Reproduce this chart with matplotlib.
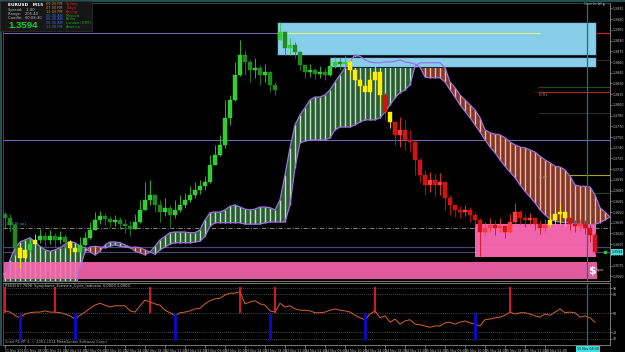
import numpy as np
import matplotlib
matplotlib.use("Agg")
import matplotlib.pyplot as plt
from matplotlib.patches import Rectangle
from matplotlib.lines import Line2D
from matplotlib.ticker import MultipleLocator, FormatStrFormatter
from matplotlib.transforms import blended_transform_factory

# ---- EURUSD M15 candles (bar index 0..118) ----
first_open = 1.3647
gap_opens = {55: 1.3891}
closes = [1.3642, 1.3632, 1.3600, 1.3586, 1.3597, 1.3605, 1.3611, 1.3616, 1.3611, 1.3616,
          1.3611, 1.3615, 1.3608, 1.3600, 1.3594, 1.3604, 1.3614, 1.3625, 1.3639, 1.3644,
          1.3640, 1.3636, 1.3639, 1.3633, 1.3630, 1.3626, 1.3636, 1.3653, 1.3667, 1.3674,
          1.3660, 1.3650, 1.3656, 1.3646, 1.3653, 1.3660, 1.3667, 1.3674, 1.3681, 1.3686,
          1.3692, 1.3716, 1.3730, 1.3744, 1.3782, 1.3807, 1.3842, 1.3870, 1.3860, 1.3849,
          1.3852, 1.3842, 1.3846, 1.3828, 1.3821, 1.3902, 1.3880, 1.3884, 1.3874, 1.3856,
          1.3846, 1.3849, 1.3843, 1.3846, 1.3842, 1.3854, 1.3860, 1.3857, 1.3860, 1.3849,
          1.3835, 1.3826, 1.3818, 1.3835, 1.3846, 1.3814, 1.3790, 1.3776, 1.3758, 1.3765,
          1.3751, 1.3748, 1.3723, 1.3702, 1.3688, 1.3695, 1.3688, 1.3692, 1.3670, 1.3660,
          1.3653, 1.3650, 1.3653, 1.3646, 1.3639, 1.3622, 1.3628, 1.3632, 1.3628, 1.3630,
          1.3622, 1.3636, 1.3650, 1.3642, 1.3639, 1.3642, 1.3633, 1.3628, 1.3632, 1.3639,
          1.3647, 1.3650, 1.3642, 1.3633, 1.3630, 1.3633, 1.3628, 1.3618, 1.3594]
highs = [1.3650, 1.3647, 1.3634, 1.3601, 1.3608, 1.3614, 1.3619, 1.3626, 1.3622, 1.3625,
         1.3621, 1.3623, 1.3619, 1.3611, 1.3607, 1.3615, 1.3622, 1.3636, 1.3650, 1.3651,
         1.3649, 1.3644, 1.3646, 1.3643, 1.3640, 1.3637, 1.3647, 1.3667, 1.3692, 1.3695,
         1.3674, 1.3667, 1.3670, 1.3660, 1.3667, 1.3674, 1.3677, 1.3686, 1.3692, 1.3695,
         1.3700, 1.3730, 1.3744, 1.3758, 1.3807, 1.3814, 1.3860, 1.3891, 1.3877, 1.3863,
         1.3866, 1.3856, 1.3857, 1.3848, 1.3832, 1.3916, 1.3894, 1.3894, 1.3888, 1.3876,
         1.3856, 1.3857, 1.3852, 1.3854, 1.3852, 1.3866, 1.3867, 1.3866, 1.3868, 1.3863,
         1.3851, 1.3838, 1.3829, 1.3846, 1.3854, 1.3849, 1.3816, 1.3790, 1.3776, 1.3783,
         1.3779, 1.3765, 1.3750, 1.3725, 1.3709, 1.3706, 1.3703, 1.3705, 1.3694, 1.3674,
         1.3660, 1.3658, 1.3660, 1.3657, 1.3650, 1.3641, 1.3636, 1.3642, 1.3639, 1.3642,
         1.3630, 1.3647, 1.3663, 1.3653, 1.3647, 1.3649, 1.3642, 1.3639, 1.3640, 1.3646,
         1.3657, 1.3661, 1.3653, 1.3642, 1.3639, 1.3640, 1.3639, 1.3632, 1.3620]
lows = [1.3628, 1.3622, 1.3590, 1.3572, 1.3580, 1.3594, 1.3601, 1.3607, 1.3602, 1.3605,
        1.3601, 1.3605, 1.3600, 1.3588, 1.3580, 1.3594, 1.3602, 1.3612, 1.3625, 1.3633,
        1.3632, 1.3629, 1.3630, 1.3626, 1.3621, 1.3616, 1.3626, 1.3634, 1.3653, 1.3660,
        1.3650, 1.3636, 1.3644, 1.3629, 1.3642, 1.3650, 1.3656, 1.3664, 1.3670, 1.3675,
        1.3681, 1.3690, 1.3716, 1.3728, 1.3740, 1.3772, 1.3805, 1.3840, 1.3842, 1.3832,
        1.3838, 1.3828, 1.3832, 1.3818, 1.3814, 1.3891, 1.3870, 1.3870, 1.3866, 1.3849,
        1.3838, 1.3839, 1.3836, 1.3838, 1.3835, 1.3840, 1.3852, 1.3849, 1.3853, 1.3840,
        1.3825, 1.3818, 1.3811, 1.3816, 1.3828, 1.3800, 1.3779, 1.3768, 1.3744, 1.3741,
        1.3737, 1.3734, 1.3702, 1.3692, 1.3674, 1.3678, 1.3672, 1.3674, 1.3653, 1.3646,
        1.3643, 1.3642, 1.3644, 1.3636, 1.3630, 1.3587, 1.3616, 1.3622, 1.3618, 1.3622,
        1.3614, 1.3620, 1.3634, 1.3633, 1.3629, 1.3632, 1.3625, 1.3619, 1.3622, 1.3629,
        1.3632, 1.3633, 1.3630, 1.3625, 1.3622, 1.3623, 1.3619, 1.3608, 1.3591]
yellow_bars = [3, 4, 6, 13, 14, 69, 70, 71, 72, 73, 74, 75, 77, 109, 110, 111, 112]
red_from = 76

# ---- Ichimoku cloud, starts one bar before the first candle ----
cloud_start = -1
span_a = [1.3558, 1.3566, 1.3583, 1.3600, 1.3608, 1.3611, 1.3614, 1.3608, 1.3602, 1.3597,
          1.3595, 1.3597, 1.3600, 1.3605, 1.3609, 1.3607, 1.3602, 1.3600, 1.3594, 1.3590,
          1.3595, 1.3604, 1.3608, 1.3608, 1.3607, 1.3604, 1.3601, 1.3595, 1.3593, 1.3590,
          1.3594, 1.3602, 1.3611, 1.3616, 1.3621, 1.3622, 1.3622, 1.3622, 1.3621, 1.3621,
          1.3625, 1.3639, 1.3649, 1.3650, 1.3650, 1.3653, 1.3658, 1.3660, 1.3657, 1.3654,
          1.3653, 1.3654, 1.3657, 1.3657, 1.3656, 1.3653, 1.3667, 1.3702, 1.3740, 1.3772,
          1.3786, 1.3796, 1.3807, 1.3811, 1.3811, 1.3814, 1.3821, 1.3832, 1.3842, 1.3852,
          1.3860, 1.3870, 1.3868, 1.3863, 1.3860, 1.3859, 1.3859, 1.3860, 1.3860, 1.3861,
          1.3863, 1.3860, 1.3859, 1.3857, 1.3853, 1.3839, 1.3838, 1.3838, 1.3838, 1.3832,
          1.3821, 1.3811, 1.3800, 1.3791, 1.3782, 1.3772, 1.3762, 1.3751, 1.3741, 1.3733,
          1.3723, 1.3714, 1.3706, 1.3698, 1.3688, 1.3679, 1.3671, 1.3663, 1.3653, 1.3646,
          1.3640, 1.3637, 1.3636, 1.3635, 1.3635, 1.3633, 1.3633, 1.3632, 1.3632, 1.3633,
          1.3635, 1.3639, 1.3643]
span_b = [1.3527, 1.3527, 1.3527, 1.3527, 1.3527, 1.3527, 1.3527, 1.3527, 1.3527, 1.3527,
          1.3527, 1.3527, 1.3527, 1.3527, 1.3527, 1.3538, 1.3572, 1.3594, 1.3601, 1.3602,
          1.3601, 1.3600, 1.3602, 1.3604, 1.3602, 1.3601, 1.3600, 1.3601, 1.3600, 1.3597,
          1.3594, 1.3591, 1.3597, 1.3601, 1.3605, 1.3607, 1.3607, 1.3607, 1.3607, 1.3608,
          1.3609, 1.3616, 1.3630, 1.3635, 1.3635, 1.3635, 1.3635, 1.3635, 1.3635, 1.3633,
          1.3633, 1.3633, 1.3633, 1.3635, 1.3636, 1.3636, 1.3636, 1.3636, 1.3660, 1.3712,
          1.3747, 1.3749, 1.3751, 1.3751, 1.3751, 1.3751, 1.3754, 1.3765, 1.3769, 1.3769,
          1.3769, 1.3772, 1.3776, 1.3779, 1.3779, 1.3779, 1.3782, 1.3790, 1.3800, 1.3810,
          1.3817, 1.3821, 1.3828, 1.3854, 1.3859, 1.3859, 1.3859, 1.3859, 1.3859, 1.3852,
          1.3832, 1.3824, 1.3814, 1.3807, 1.3800, 1.3793, 1.3782, 1.3765, 1.3761, 1.3759,
          1.3758, 1.3754, 1.3748, 1.3744, 1.3741, 1.3740, 1.3737, 1.3734, 1.3728, 1.3723,
          1.3719, 1.3714, 1.3713, 1.3709, 1.3700, 1.3688, 1.3686, 1.3686, 1.3685, 1.3674,
          1.3656, 1.3650, 1.3643]

# ---- RSI / Symphonie extreme panel ----
rsi = [54, 52, 47, 43, 49, 51, 52, 52, 54, 52, 52, 51, 49, 46, 41, 47, 52, 58, 63, 66,
       63, 60, 62, 62, 62, 54, 52, 62, 71, 68, 65, 63, 55, 51, 46, 51, 52, 54, 57, 58,
       65, 70, 73, 74, 79, 82, 82, 84, 65, 68, 70, 65, 63, 54, 52, 66, 60, 62, 57, 55,
       55, 54, 51, 51, 52, 55, 57, 55, 54, 52, 47, 43, 40, 49, 54, 43, 46, 36, 41, 33,
       38, 40, 33, 32, 30, 28, 30, 30, 35, 36, 33, 36, 38, 35, 33, 30, 40, 41, 43, 44,
       47, 52, 49, 51, 51, 49, 46, 44, 49, 47, 52, 57, 51, 52, 51, 44, 46, 43, 36]
sell_spikes = [0, 10, 29, 47, 54, 74, 101]
buy_spikes = [3, 14, 34, 53, 72, 94]
rsi_levels = [90, 80, 50, 20, 10]

# ---- levels and zones ----
supply_zone = (1.3870, 1.3916)
supply_zone2 = (1.3853, 1.3867)
demand_zone = (1.3587, 1.3633)
demand_band = (1.3556, 1.3580)
full_lines = [1.3901, 1.3751, 1.3601, 1.3594]
pivot_pp1 = 1.3628
daily_lines = {1.3863: "#4a1c1c", 1.3825: "#1d4f1d", 1.3818: "#b02020",
               1.3789: "#2a2a2a", 1.3702: "#a5a522", 1.3677: "#1d4f1d"}
last_price = 1.3594

time_labels = ["11 Nov 2013", "11 Nov 18:00", "11 Nov 22:00", "12 Nov 02:00", "12 Nov 06:00",
               "12 Nov 10:00", "12 Nov 14:00", "12 Nov 18:00", "12 Nov 22:00", "13 Nov 02:00",
               "13 Nov 06:00", "13 Nov 10:00", "13 Nov 14:00", "13 Nov 18:00", "13 Nov 22:00",
               "14 Nov 02:00", "14 Nov 06:00", "14 Nov 10:00", "14 Nov 14:00", "14 Nov 18:00",
               "14 Nov 22:00", "15 Nov 02:00", "15 Nov 06:00", "15 Nov 10:00", "15 Nov 14:00",
               "15 Nov 18:00", "15 Nov 22:00", "18 Nov 02:00"]

session_times = ["09:00 PM", "07:00 PM", "12:00 PM", "06:30 AM", "06:30 AM", "06:30 AM", "11:30 PM"]
session_names = ["Sydney", "Tokyo", "Beijing", "Moscow", "Berlin", "London (GMT)", "America"]

NARROW = ["Liberation Sans Narrow", "DejaVu Sans"]

W, H = 625, 352
def fx(px):
    return px / W
def fy(py):
    return 1 - py / H

fig = plt.figure(figsize=(6.25, 3.52), dpi=100, facecolor="black")
ax = fig.add_axes([fx(3), fy(281), 607 / W, 278 / H], facecolor="black")
ax2 = fig.add_axes([fx(3), fy(345), 607 / W, 62 / H], facecolor="black")

xmin, xmax = -0.4, 121.0
ax.set_xlim(xmin, xmax)
ax.set_ylim(1.35534, 1.39426)

bars = np.arange(len(closes))
closes_a = np.array(closes)
opens_a = np.concatenate([[first_open], closes_a[:-1]])
for k, v in gap_opens.items():
    opens_a[k] = v

# cloud
kc = np.arange(len(span_a)) + cloud_start
A = np.array(span_a)
B = np.array(span_b)
bull = A >= B
ax.fill_between(kc, A, B, where=bull, interpolate=True, color="#2e5a3a", lw=0, zorder=2)
ax.fill_between(kc, A, B, where=~bull, interpolate=True, color="#7a3a2e", lw=0, zorder=2)
lo_c, hi_c = np.minimum(A, B), np.maximum(A, B)
ax.vlines(kc[bull], lo_c[bull], hi_c[bull], color="#b8e8b8", lw=1.0, zorder=2.1)
ax.vlines(kc[~bull], lo_c[~bull], hi_c[~bull], color="#ffb496", lw=1.0, zorder=2.1)

# horizontal levels
for lv in full_lines[:2]:
    ax.axhline(lv, color="#6e66a8", lw=0.8, zorder=1.5)
for lv in full_lines[2:]:
    ax.axhline(lv, color="#4c4470", lw=0.9, zorder=1.5)
ax.axhline(pivot_pp1, color="#9a9a9a", lw=0.6, dashes=(5, 2, 1, 2), zorder=1.6)
for lv, c in daily_lines.items():
    ax.hlines(lv, 106.6, xmax, color=c, lw=0.8, zorder=1.5)

# zones
ax.add_patch(Rectangle((-1, demand_band[0]), 119.4, demand_band[1] - demand_band[0],
                       facecolor="#ff69b4", edgecolor="none", alpha=0.88, zorder=2.3))
ax.add_patch(Rectangle((94, demand_zone[0]), 24.2, demand_zone[1] - demand_zone[0],
                       facecolor="#ff69b4", edgecolor="none", alpha=0.95, zorder=2.3))
ax.add_patch(Rectangle((54.4, supply_zone[0]), 63.8, supply_zone[1] - supply_zone[0],
                       facecolor="#87ceeb", edgecolor="#1a2a3a", lw=0.8, zorder=2.5))
ax.add_patch(Rectangle((65, supply_zone2[0]), 53.2, supply_zone2[1] - supply_zone2[0],
                       facecolor="#87ceeb", edgecolor="#1a2a3a", lw=0.8, zorder=2.5))
ax.hlines(full_lines[0], 54.4, 107, color="#d8f28a", lw=0.8, zorder=2.6)
ax.hlines(full_lines[0], 118.2, xmax, color="#cc2222", lw=0.8, zorder=2.6)

# cloud edges
ax.plot(kc, A, color="#a070e0", lw=0.9, zorder=3)
ax.plot(kc, B, color="#a070e0", lw=0.9, zorder=3)

# candles
for i in bars:
    o, c = opens_a[i], closes_a[i]
    up = c >= o
    if i in yellow_bars:
        col = "#ffee00"
    elif i >= red_from:
        col = "#ff3a3a" if up else "#d01414"
    else:
        col = "#33cc33" if up else "#1f8a1f"
    ax.vlines(i, lows[i], highs[i], color=col, lw=0.6, zorder=4)
    h = max(abs(c - o), 0.00008)
    ax.add_patch(Rectangle((i - 0.33, min(o, c)), 0.66, h, facecolor=col,
                           edgecolor=col, lw=0.3, zorder=4.1))

# crosshair line
for a in (ax, ax2):
    a.axvline(116.4, color="#1c7474", lw=0.9, zorder=3.5)

# price axis
ax.yaxis.tick_right()
ax.yaxis.set_major_locator(MultipleLocator(0.0015))
ax.yaxis.set_major_formatter(FormatStrFormatter("%.4f"))
ax.tick_params(axis="y", labelsize=2.3, colors="#c8c8c8", length=1.2, width=0.4, pad=0.5)
for lab in ax.get_yticklabels():
    lab.set_family(NARROW)
ax.tick_params(axis="x", bottom=False, labelbottom=False)
for s in ax.spines.values():
    s.set_color("#8a8a8a")
    s.set_linewidth(0.6)
ax.spines["left"].set_color("#2a6060")
ax.spines["top"].set_color("#2a6060")

tr = blended_transform_factory(ax.transAxes, ax.transData)
ax.text(1.002, last_price, "1.3594", transform=tr, fontsize=2.3, color="black", va="center",
        ha="left", family=NARROW, bbox=dict(facecolor="#40e0e0", edgecolor="none", pad=0.4),
        clip_on=False, zorder=6)
ax.plot(120.0, last_price, "s", color="#22cc22", ms=1.6, zorder=6)
ax.text(106.8, 1.3816, "D R1", fontsize=2.5, color="#9a9a9a", va="top", zorder=5)
ax.text(106.8, 1.3700, "D PP", fontsize=2.5, color="#9a9a9a", va="top", zorder=5)
ax.text(0.2, pivot_pp1 + 0.0002, "1.3628 pp1", fontsize=2.5, color="#3aa0a0", va="bottom", zorder=5)
ax.text(117.4, 1.3568, "$", fontsize=8, color="white", fontweight="bold", ha="center",
        va="center", zorder=6)
ax.text(118.2, 1.3569, "Signal", fontsize=2, color="#dddddd", ha="left", va="center",
        family=NARROW, zorder=6)

# RSI panel
ax2.set_xlim(xmin, xmax)
ax2.set_ylim(0, 98)
for lv in rsi_levels:
    ax2.axhline(lv, color="#8a8a8a", lw=0.5, ls=(0, (1, 2)), zorder=1)
ax2.plot(bars, rsi, color="#d8642a", lw=0.7, zorder=3)
ax2.vlines(sell_spikes, 50, 92, color="#ff2020", lw=1.2, zorder=4)
ax2.vlines(buy_spikes, 50, 8, color="#0a0ad0", lw=2.0, zorder=4)
ax2.yaxis.tick_right()
ax2.set_yticks(rsi_levels)
ax2.tick_params(axis="y", labelsize=2.3, colors="#c8c8c8", length=1.2, width=0.4, pad=0.5)
ax2.set_xticks(np.arange(len(time_labels)) * 4)
ax2.set_xticklabels(time_labels, ha="left")
ax2.tick_params(axis="x", labelsize=2.3, colors="#c8c8c8", length=2, width=0.4, pad=1)
for lab in ax2.get_xticklabels() + ax2.get_yticklabels():
    lab.set_family(NARROW)
for s in ax2.spines.values():
    s.set_color("#8a8a8a")
    s.set_linewidth(0.6)
ax2.spines["left"].set_color("#2a6060")
ax2.text(0.003, 0.985, "RSI(8) 67.7698  Symphonie_Extreme_Cycle_Indicator 0.0000 1.0000",
         transform=ax2.transAxes, fontsize=2.6, color="#c8c8c8", va="top")
ax2.text(0.003, 0.01, "(Intel P4 MT 4, \u00a9 2001-2014 MetaQuotes Software Corp.)",
         transform=ax2.transAxes, fontsize=2.5, color="#b0b0b0", va="bottom")
fig.text(fx(577), fy(349), "15 Nov 08:30", fontsize=2.3, color="black", va="center",
         family=NARROW, bbox=dict(facecolor="#40e0e0", edgecolor="none", pad=0.5))

# info panel top-left
fig.add_artist(Rectangle((0, fy(31)), fx(92), 30 / H, transform=fig.transFigure,
                         facecolor="#161616", edgecolor="#303030", lw=0.5, zorder=5))
fig.text(fx(8), fy(4.5), "EURUSD   M15", fontsize=3.2, color="white", fontweight="bold",
         va="center", zorder=6)
fig.text(fx(8), fy(10), "Spread:   2.00", fontsize=2.7, color="#b8b8b8", va="center", zorder=6)
fig.text(fx(8), fy(14), "Range:   205.40", fontsize=2.7, color="#b8b8b8", va="center", zorder=6)
fig.text(fx(8), fy(18), "Candle:  00:08:30", fontsize=2.7, color="#b8b8b8", va="center", zorder=6)
fig.text(fx(8), fy(25.5), "1.3594", fontsize=6.8, color="#22cc33", fontweight="bold",
         family="Liberation Sans", va="center", zorder=6)
for r, (t, n) in enumerate(zip(session_times, session_names)):
    yy = fy(4.3 + r * 3.8)
    tc = "#d08a35" if r < 3 else "#3a70d8"
    nc = "#dd2222" if r < 3 else "#22aa22"
    fig.text(fx(46), yy, t, fontsize=2.5, color=tc, va="center", zorder=6)
    fig.text(fx(66), yy, n, fontsize=2.5, color=nc, va="center", zorder=6)
fig.text(fx(584), fy(3.5), "Close En All \u25b2", fontsize=2.2, color="#b0b0b0", va="center",
         family=NARROW)
fig.add_artist(Line2D([fx(1.5), fx(1.5)], [0.02, 1], transform=fig.transFigure,
                      color="#2a6060", lw=1.2))
fig.add_artist(Line2D([0, 1], [fy(0.8), fy(0.8)], transform=fig.transFigure,
                      color="#2a6060", lw=1.2))

fig.savefig("out.png", dpi=100, facecolor="black")
